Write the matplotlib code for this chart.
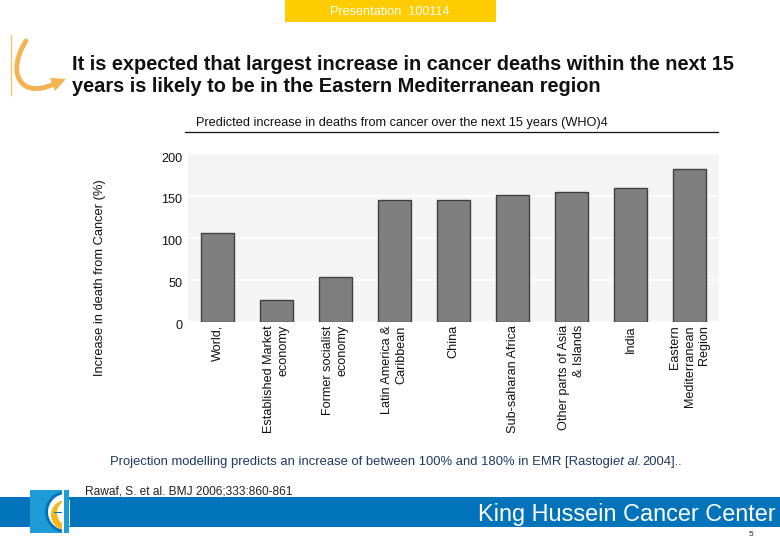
import matplotlib
matplotlib.use("Agg")
import matplotlib.pyplot as plt
from matplotlib.patches import Rectangle, PathPatch, Wedge, Polygon
from matplotlib.path import Path
from matplotlib.transforms import ScaledTranslation

plt.rcParams['font.family'] = ['Liberation Sans', 'DejaVu Sans']

categories = ["World,", "Established Market\neconomy", "Former socialist\neconomy",
              "Latin America &\nCaribbean", "China", "Sub-saharan Africa",
              "Other parts of Asia\n& Islands", "India", "Eastern\nMediterranean\nRegion"]
values = [106.5, 26, 53, 145.5, 145.5, 151, 155, 160, 182.5]
yticks = [0, 50, 100, 150, 200]

W, H = 780, 540
fig = plt.figure(figsize=(7.8, 5.4), dpi=100, facecolor='white')

# page furniture, in pixel coordinates
bg = fig.add_axes([0, 0, 1, 1], zorder=0)
bg.set_xlim(0, W); bg.set_ylim(H, 0); bg.axis('off')
bg.add_patch(Rectangle((285, 0), 211, 22, fc='#FFCC00', ec='none'))
bg.text(390, 12, "Presentation  100114", color='white', fontsize=9.1, ha='center', va='center')
bg.plot([10.5, 10.5], [35, 95], color='#F3C46E', lw=1)
bg.add_patch(PathPatch(Path([(26, 41), (6, 72), (20, 100), (54, 84)],
                            [Path.MOVETO, Path.CURVE4, Path.CURVE4, Path.CURVE4]),
                       fc='none', ec='#F2B450', lw=3.5, capstyle='round'))
bg.add_patch(Polygon([(50, 78), (66, 79), (55, 91)], fc='#F2B450', ec='none'))
bg.text(72, 64.5, "It is expected that largest increase in cancer deaths within the next 15",
        fontsize=14.4, fontweight='bold', color='#111111', va='center', ha='left')
bg.text(72, 86.5, "years is likely to be in the Eastern Mediterranean region",
        fontsize=14.4, fontweight='bold', color='#111111', va='center', ha='left')
bg.text(196, 123, "Predicted increase in deaths from cancer over the next 15 years (WHO)4",
        fontsize=9.15, color='#111111', va='center', ha='left')
bg.plot([185, 718], [131.5, 131.5], color='#111111', lw=0.9)
bg.text(110, 462, "Projection modelling predicts an increase of between 100% and 180% in EMR [Rastogi",
        fontsize=9.4, color='#1F3864', va='center', ha='left')
bg.text(613, 462, "et al.", fontsize=9.4, style='italic', color='#1F3864', va='center', ha='left')
bg.text(642, 462, "2004]..", fontsize=9.4, color='#1F3864', va='center', ha='left')
bg.text(85, 491, "Rawaf, S. et al. BMJ 2006;333:860-861", fontsize=8.6, color='#222222', va='center', ha='left')
bg.add_patch(Rectangle((0, 497), W, 30, fc='#0073BA', ec='none'))
bg.text(776, 514, "King Hussein Cancer Center", fontsize=16.9, color='white', va='center', ha='right')
bg.text(751, 535, "5", fontsize=6, color='#222222', va='center', ha='center')
# logo
bg.add_patch(Rectangle((30, 490), 39, 43, fc='#1E9CD7', ec='none', zorder=3))
bg.add_patch(Wedge((66, 512), 21, 90, 270, fc='#0073BA', ec='none', zorder=4))
bg.add_patch(Wedge((66, 512), 18, 90, 270, fc='white', ec='none', zorder=5))
bg.add_patch(Wedge((66, 515), 15, 90, 270, fc='#F5B81C', ec='none', zorder=6))
bg.add_patch(Wedge((70, 513), 13, 90, 270, fc='white', ec='none', zorder=7))
bg.add_patch(Rectangle((54, 511.5), 10, 1.5, fc='#0073BA', ec='none', zorder=8))
bg.add_patch(Rectangle((62, 490), 2, 43, fc='white', ec='none', zorder=8))
bg.add_patch(Rectangle((64, 490), 5, 43, fc='#1E9CD7', ec='none', zorder=8))

# chart
L, R, T, B = 188, 719, 154.5, 321.7
ax = fig.add_axes([L / W, 1 - B / H, (R - L) / W, (B - T) / H], zorder=1)
ax.set_facecolor('#F4F4F4')
x = range(len(categories))
ax.bar(x, values, width=0.55, color='#7F7F7F', edgecolor='#404040', linewidth=1, zorder=3)
ax.set_xlim(-0.5, 8.5)
ax.set_ylim(0, 200)
ax.set_yticks(yticks)
ax.set_xticks(list(x))
ax.set_xticklabels(categories, rotation=90, ha='center', va='top', multialignment='right',
                   fontsize=9.1, color='#111111', linespacing=1.3)
ax.tick_params(axis='both', length=0)
ax.tick_params(axis='x', pad=2.5)
ax.tick_params(axis='y', pad=4, labelsize=9.1, labelcolor='#111111')
# the reference's value labels sit slightly below their gridlines
down = ScaledTranslation(0, -2.5 / 100, fig.dpi_scale_trans)
for lab in ax.get_yticklabels():
    lab.set_transform(lab.get_transform() + down)
ax.yaxis.grid(True, color='white', lw=1.2, zorder=1)
ax.set_axisbelow(True)
for s in ax.spines.values():
    s.set_visible(False)
bg.text(100.5, 278, "Increase in death from Cancer (%)", rotation=90, fontsize=9.25,
        color='#111111', va='center', ha='center')

fig.savefig("out.png", dpi=100)
